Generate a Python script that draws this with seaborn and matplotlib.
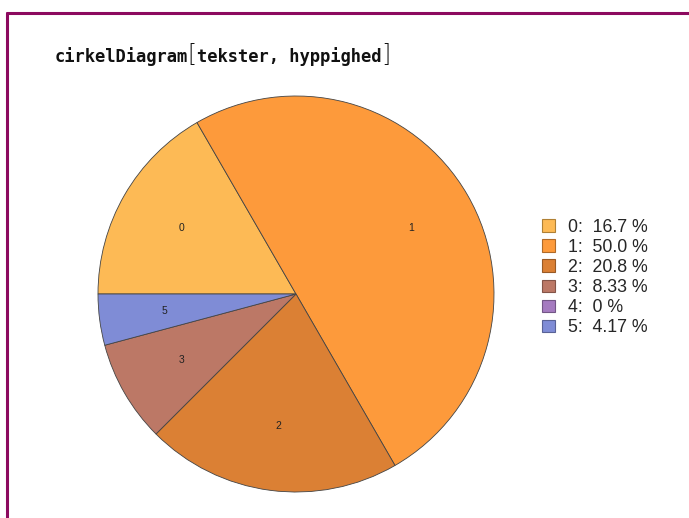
import matplotlib
matplotlib.use("Agg")
import matplotlib.pyplot as plt
from matplotlib.patches import Patch
import seaborn as sns

# data
tekster = ["0", "1", "2", "3", "4", "5"]
hyppighed = [4, 12, 5, 2, 0, 1]
farver = ["#FDBA55", "#FD9A3B", "#DB8034", "#BC7866", "#A57BC0", "#7F8CD6"]
kanter = ["#B08035", "#B06A28", "#995A25", "#845448", "#735686", "#596296"]

sns.set_theme(style="white")
plt.rcParams["font.family"] = ["Liberation Sans", "DejaVu Sans"]

fig = plt.figure(figsize=(6.89, 5.18), dpi=100)
W, H = 689, 518

# purple frame
fig.add_artist(plt.Line2D([6.5 / W, 6.5 / W], [0, 1 - 12.5 / H], color="#8C0A5F", lw=2.2))
fig.add_artist(plt.Line2D([6.5 / W, 1], [1 - 12.5 / H, 1 - 12.5 / H], color="#8C0A5F", lw=2.2))

# pie axes: center (296, 294), radius 198 px
cx, cy, r = 296, 294, 198
ax = fig.add_axes([(cx - r) / W, (H - cy - r) / H, 2 * r / W, 2 * r / H])
total = sum(hyppighed)
wedges, labels = ax.pie(hyppighed, labels=tekster, colors=farver, startangle=180,
                        counterclock=False, labeldistance=0.67, radius=1,
                        wedgeprops=dict(edgecolor="#444444", linewidth=0.6),
                        textprops=dict(fontsize=7.5, color="#222222", ha="center", va="center"))
for w, v in zip(wedges, hyppighed):
    if v == 0:
        w.set_visible(False)
for t, v in zip(labels, hyppighed):
    if v == 0:
        t.set_visible(False)
ax.set_xlim(-1, 1)
ax.set_ylim(-1, 1)
ax.set_aspect("equal")
ax.axis("off")

# legend
handles = [Patch(facecolor=f, edgecolor=k, linewidth=0.8) for f, k in zip(farver, kanter)]
etiketter = []
for t, v in zip(tekster, hyppighed):
    p = 100 * v / total
    if v == 0:
        s = "0 %"
    elif p >= 10:
        s = f"{p:.1f} %"
    else:
        s = f"{p:.3g} %"
    etiketter.append(f"{t}:  {s}")
fig.legend(handles, etiketter, loc="upper left", bbox_to_anchor=(542 / W, 1 - 219 / H),
           frameon=False, fontsize=12.8, handlelength=0.72, handleheight=0.72,
           handletextpad=0.75, labelspacing=0.17, borderpad=0, borderaxespad=0)

# title
fig.canvas.draw()
rend = fig.canvas.get_renderer()
x = 54.5 / W
y = 1 - 62 / H
for txt, wt, fs, fam in [("cirkelDiagram", "bold", 12.3, "DejaVu Sans Mono"),
                         ("[", "light", 17, "DejaVu Sans"),
                         ("tekster, hyppighed", "bold", 12.3, "DejaVu Sans Mono"),
                         ("]", "light", 17, "DejaVu Sans")]:
    t = fig.text(x, y, txt, fontsize=fs, fontweight=wt, family=[fam, "DejaVu Sans"],
                 va="baseline", ha="left", color="#111111")
    bb = t.get_window_extent(rend)
    x += bb.width / W

fig.savefig("out.png", dpi=100)
